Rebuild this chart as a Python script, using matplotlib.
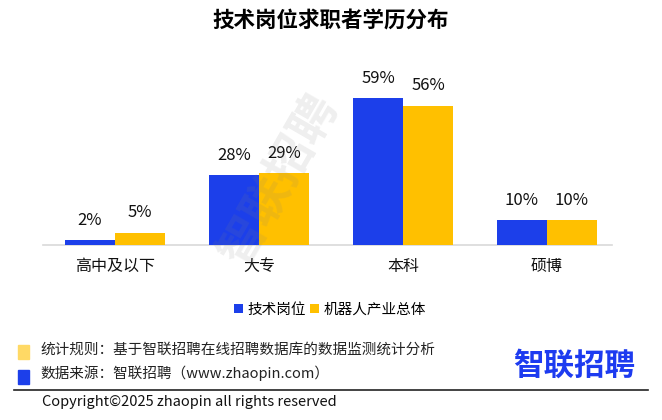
import matplotlib
matplotlib.use("Agg")
import matplotlib.pyplot as plt
import numpy as np
from matplotlib.patches import Rectangle

plt.rcParams['font.family'] = ['Noto Sans CJK SC', 'DejaVu Sans']

categories = ["高中及以下", "大专", "本科", "硕博"]
tech = [2, 28, 59, 10]
robot = [5, 29, 56, 10]
series_names = ["技术岗位", "机器人产业总体"]
title = "技术岗位求职者学历分布"

BLUE = "#1C3FEA"
YELLOW = "#FFC000"

W, H = 662, 420
fig = plt.figure(figsize=(W/100, H/100), dpi=100)

# axes: baseline at y=245px, x from 43 to 612
ax_left, ax_right = 43, 612
ax_bottom_px = 245
ax_top_px = 60
ax = fig.add_axes([ax_left/W, 1-ax_bottom_px/H, (ax_right-ax_left)/W, (ax_bottom_px-ax_top_px)/H])

x = np.arange(len(categories))
bw = 50/144
ax.bar(x - bw/2, tech, width=bw, color=BLUE, label=series_names[0], zorder=3)
ax.bar(x + bw/2, robot, width=bw, color=YELLOW, label=series_names[1], zorder=3)
ax.set_xlim(-0.5, (ax_right-ax_left)/144 - 0.5)
ax.set_ylim(0, (ax_bottom_px-ax_top_px)/2.49)

for xi, v in zip(x, tech):
    ax.annotate(f"{v}%", (xi - bw/2, v), xytext=(0, 8), textcoords="offset points",
                ha="center", va="bottom", fontsize=12, color="#111111")
for xi, v in zip(x, robot):
    ax.annotate(f"{v}%", (xi + bw/2, v), xytext=(0, 8), textcoords="offset points",
                ha="center", va="bottom", fontsize=12, color="#111111")

for s in ["top", "right", "left"]:
    ax.spines[s].set_visible(False)
ax.spines["bottom"].set_color("#D9D9D9")
ax.spines["bottom"].set_linewidth(1.2)
ax.set_yticks([])
ax.set_xticks(x)
ax.set_xticklabels(categories, fontsize=11.5, color="#111111")
ax.tick_params(axis="x", length=0, pad=9)
ax.patch.set_alpha(0)

# watermark (semi-transparent, on top)
fig.text(280/W, 1-180/H, "智联招聘", fontsize=34, color="#808080", alpha=0.13, rotation=60,
         ha="center", va="center", fontweight="bold", zorder=10)

# title
fig.text(331/W, 1-21/H, title, fontsize=15.5, fontweight="bold", ha="center", va="center", color="#000000")

# legend
leg = fig.legend(loc="center", bbox_to_anchor=(330/W, 1-310/H), ncol=2, frameon=False,
                 fontsize=10.5, handlelength=0.6, handleheight=0.6, handletextpad=0.3,
                 columnspacing=0.3)

# footer
fig.patches.append(Rectangle((18/W, 1-359/H), 11/W, 14/H, transform=fig.transFigure,
                             color="#FFD965", zorder=5))
fig.patches.append(Rectangle((18/W, 1-384/H), 11/W, 14/H, transform=fig.transFigure,
                             color=BLUE, zorder=5))
fig.text(40/W, 1-350/H, "统计规则：基于智联招聘在线招聘数据库的数据监测统计分析", fontsize=10.5,
         ha="left", va="center", color="#222222")
fig.text(40/W, 1-373/H, "数据来源：智联招聘（www.zhaopin.com）", fontsize=10.5,
         ha="left", va="center", color="#222222")
fig.text(574/W, 1-366/H, "智联招聘", fontsize=22, fontweight="bold", ha="center", va="center",
         color="#1D3BF0")
fig.add_artist(plt.Line2D([14/W, 648/W], [1-390/H, 1-390/H], transform=fig.transFigure,
                          color="#222222", linewidth=1.2))
fig.text(42/W, 1-402/H, "Copyright©2025 zhaopin all rights reserved", fontsize=10.5,
         ha="left", va="center", color="#111111")

fig.savefig("out.png", dpi=100)
